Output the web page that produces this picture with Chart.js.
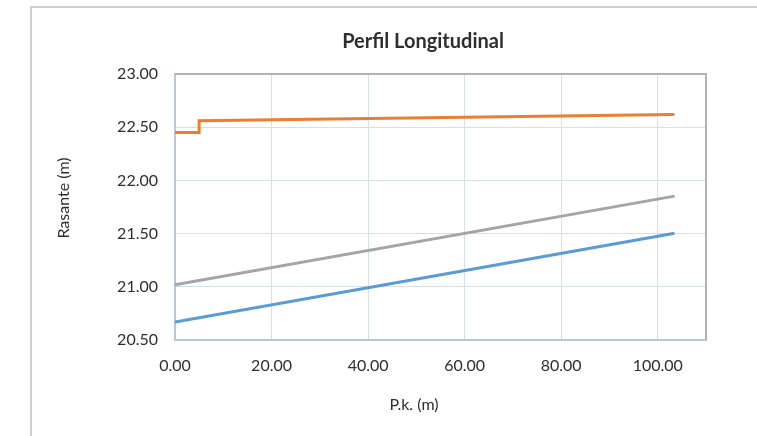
<!DOCTYPE html>
<html>
<head>
<meta charset="utf-8">
<title>Perfil Longitudinal</title>
<script src="https://cdn.jsdelivr.net/npm/chart.js@4/dist/chart.umd.min.js"></script>
<style>
  html, body { margin: 0; padding: 0; background: #ffffff; }
  body { width: 757px; height: 436px; position: relative; overflow: hidden; }
  #frame {
    position: absolute; left: 30px; top: 6px; width: 800px; height: 460px;
    border-left: 2px solid #cfcfcf; border-top: 2px solid #cfcfcf;
    box-sizing: border-box;
  }
  #wrap { position: absolute; left: 0; top: 0; width: 757px; height: 436px; }
</style>
</head>
<body>
<div id="frame"></div>
<div id="wrap"><canvas id="chart" width="757" height="436"></canvas></div>
<script>
// Chainage (P.k.) in metres
const pkLinea = [0, 103.2];
const pkRasante = [0, 5, 5, 103.2];

// Elevations in metres
const cotaInferior = [20.67, 21.50];
const cotaRasante = [22.45, 22.45, 22.56, 22.62];
const cotaIntermedia = [21.02, 21.85];

// Axis ticks
const xTicks = [0, 20, 40, 60, 80, 100];
const yTicks = [20.5, 21.0, 21.5, 22.0, 22.5, 23.0];

const toPoints = (xs, ys) => xs.map((x, i) => ({ x: x, y: ys[i] }));

const FONT = "Lato, 'Open Sans', 'DejaVu Sans', sans-serif";
const TEXT = '#2e2e2e';

// Grey frame on the top and right of the plot area
const plotFrame = {
  id: 'plotFrame',
  afterDatasetsDraw(chart) {
    const { ctx, chartArea: a } = chart;
    ctx.save();
    ctx.strokeStyle = '#b3b3b3';
    ctx.lineWidth = 2;
    ctx.beginPath();
    ctx.moveTo(a.left, a.top);
    ctx.lineTo(a.right, a.top);
    ctx.lineTo(a.right, a.bottom);
    ctx.stroke();
    ctx.restore();
  }
};

// Chart heading and axis titles
const labels = {
  id: 'labels',
  afterDraw(chart) {
    const { ctx } = chart;
    ctx.save();
    ctx.textAlign = 'center';
    ctx.textBaseline = 'middle';
    ctx.fillStyle = TEXT;
    ctx.font = "bold 20px " + FONT;
    ctx.fillText('Perfil Longitudinal', 423, 42);

    ctx.font = "16px " + FONT;
    ctx.fillText('P.k. (m)', 414, 405);

    ctx.translate(64, 198);
    ctx.rotate(-Math.PI / 2);
    ctx.font = "16px " + FONT;
    ctx.fillText('Rasante (m)', 0, 0);
    ctx.restore();
  }
};

new Chart(document.getElementById('chart'), {
  type: 'scatter',
  data: {
    datasets: [
      {
        label: 'Cota inferior',
        data: toPoints(pkLinea, cotaInferior),
        borderColor: '#5b9bd5',
        backgroundColor: '#5b9bd5'
      },
      {
        label: 'Rasante',
        data: toPoints(pkRasante, cotaRasante),
        borderColor: '#ed7d31',
        backgroundColor: '#ed7d31'
      },
      {
        label: 'Cota intermedia',
        data: toPoints(pkLinea, cotaIntermedia),
        borderColor: '#a5a5a5',
        backgroundColor: '#a5a5a5'
      }
    ]
  },
  options: {
    responsive: false,
    animation: false,
    devicePixelRatio: 1,
    showLine: true,
    elements: {
      line: { borderWidth: 3, tension: 0, borderCapStyle: 'round', borderJoinStyle: 'miter' },
      point: { radius: 0, hoverRadius: 0 }
    },
    layout: { padding: { left: 50, top: 74, right: 51, bottom: 0 } },
    plugins: {
      legend: { display: false },
      title: { display: false },
      tooltip: { enabled: false }
    },
    scales: {
      x: {
        type: 'linear',
        min: 0,
        max: 110,
        afterBuildTicks(scale) { scale.ticks = xTicks.map(v => ({ value: v })); },
        afterFit(scale) { scale.height = 96; },
        grid: { color: '#d9dde5', lineWidth: 1, drawTicks: false },
        border: { display: true, color: '#bcc5d6', width: 2 },
        ticks: {
          padding: 16,
          color: TEXT,
          font: { family: FONT, size: 16 },
          maxRotation: 0,
          callback: v => Number(v).toFixed(2)
        }
      },
      y: {
        type: 'linear',
        min: 20.5,
        max: 23,
        afterBuildTicks(scale) { scale.ticks = yTicks.map(v => ({ value: v })); },
        afterFit(scale) { scale.width = 125; },
        grid: { color: '#d9dde5', lineWidth: 1, drawTicks: false },
        border: { display: true, color: '#bcc5d6', width: 2 },
        ticks: {
          padding: 17,
          color: TEXT,
          font: { family: FONT, size: 16 },
          callback: v => Number(v).toFixed(2)
        }
      }
    }
  },
  plugins: [plotFrame, labels]
});
</script>
</body>
</html>
